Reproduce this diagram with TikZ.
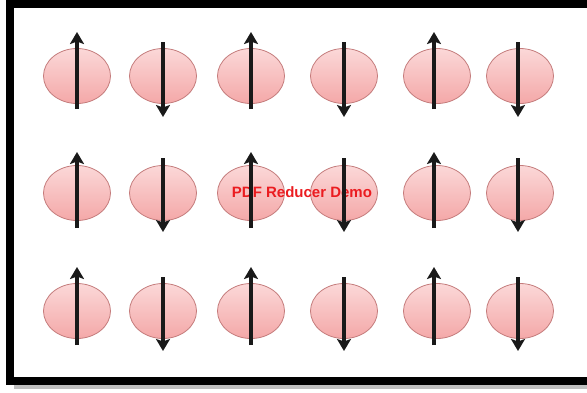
\documentclass[tikz,border=0pt]{standalone}
\usepackage{fontspec}
\setsansfont{Liberation Sans}
\usetikzlibrary{arrows.meta, shapes.geometric}

\definecolor{orbitfill}{RGB}{251,216,216}
\definecolor{orbitshade}{RGB}{244,168,168}
\definecolor{orbitline}{RGB}{196,124,124}
\definecolor{demored}{RGB}{235,28,32}

\begin{document}
\begin{tikzpicture}[
  x=1pt, y=-1pt,
  font=\sffamily,
  orbital/.style={
    ellipse,
    draw=orbitline,
    line width=0.8pt,
    top color=orbitfill,
    bottom color=orbitshade,
    minimum width=67pt,
    minimum height=55pt,
    inner sep=0pt
  },
  arrow/.style={-{Stealth[length=12pt, width=14pt, inset=2.5pt]}, line width=4pt, black!90}
]

\useasboundingbox (0,0) rectangle (587,392);

% --- Frame ---
\fill[black!25] (14,384) rectangle (600,389);
\draw[line width=8pt] (10,4) rectangle (600,380.5);

% --- Row 1 ---
\node[orbital] (a1) at (77,76) {};
\node[orbital] (a2) at (163,76) {};
\node[orbital] (a3) at (251,76) {};
\node[orbital] (a4) at (344,76) {};
\node[orbital] (a5) at (437,76) {};
\node[orbital] (a6) at (520,76) {};

% --- Row 2 ---
\node[orbital] (b1) at (77,193) {};
\node[orbital] (b2) at (163,193) {};
\node[orbital] (b3) at (251,193) {};
\node[orbital] (b4) at (344,193) {};
\node[orbital] (b5) at (437,193) {};
\node[orbital] (b6) at (520,193) {};

% --- Row 3 ---
\node[orbital] (c1) at (77,311) {};
\node[orbital] (c2) at (163,311) {};
\node[orbital] (c3) at (251,311) {};
\node[orbital] (c4) at (344,311) {};
\node[orbital] (c5) at (437,311) {};
\node[orbital] (c6) at (520,311) {};

% Watermark
\node[text=demored, font=\sffamily\bfseries\fontsize{15}{18}\selectfont] (demo) at (302,192) {PDF Reducer Demo};

% --- Spins up ---
\draw[arrow] ([yshift=-33pt]a1.center) -- ([yshift=44pt]a1.center);
\draw[arrow] ([yshift=-33pt]a3.center) -- ([yshift=44pt]a3.center);
\draw[arrow] ([xshift=-3pt, yshift=-33pt]a5.center) -- ([xshift=-3pt, yshift=44pt]a5.center);
\draw[arrow] ([yshift=-35pt]b1.center) -- ([yshift=41pt]b1.center);
\draw[arrow] ([yshift=-35pt]b3.center) -- ([yshift=41pt]b3.center);
\draw[arrow] ([xshift=-3pt, yshift=-35pt]b5.center) -- ([xshift=-3pt, yshift=41pt]b5.center);
\draw[arrow] ([yshift=-34pt]c1.center) -- ([yshift=44pt]c1.center);
\draw[arrow] ([yshift=-34pt]c3.center) -- ([yshift=44pt]c3.center);
\draw[arrow] ([xshift=-3pt, yshift=-34pt]c5.center) -- ([xshift=-3pt, yshift=44pt]c5.center);

% --- Spins down ---
\draw[arrow] ([yshift=34pt]a2.center) -- ([yshift=-41pt]a2.center);
\draw[arrow] ([yshift=34pt]a4.center) -- ([yshift=-41pt]a4.center);
\draw[arrow] ([xshift=-2pt, yshift=34pt]a6.center) -- ([xshift=-2pt, yshift=-41pt]a6.center);
\draw[arrow] ([yshift=35pt]b2.center) -- ([yshift=-39pt]b2.center);
\draw[arrow] ([yshift=35pt]b4.center) -- ([yshift=-39pt]b4.center);
\draw[arrow] ([xshift=-2pt, yshift=35pt]b6.center) -- ([xshift=-2pt, yshift=-39pt]b6.center);
\draw[arrow] ([yshift=34pt]c2.center) -- ([yshift=-40pt]c2.center);
\draw[arrow] ([yshift=34pt]c4.center) -- ([yshift=-40pt]c4.center);
\draw[arrow] ([xshift=-2pt, yshift=34pt]c6.center) -- ([xshift=-2pt, yshift=-40pt]c6.center);

\end{tikzpicture}
\end{document}
